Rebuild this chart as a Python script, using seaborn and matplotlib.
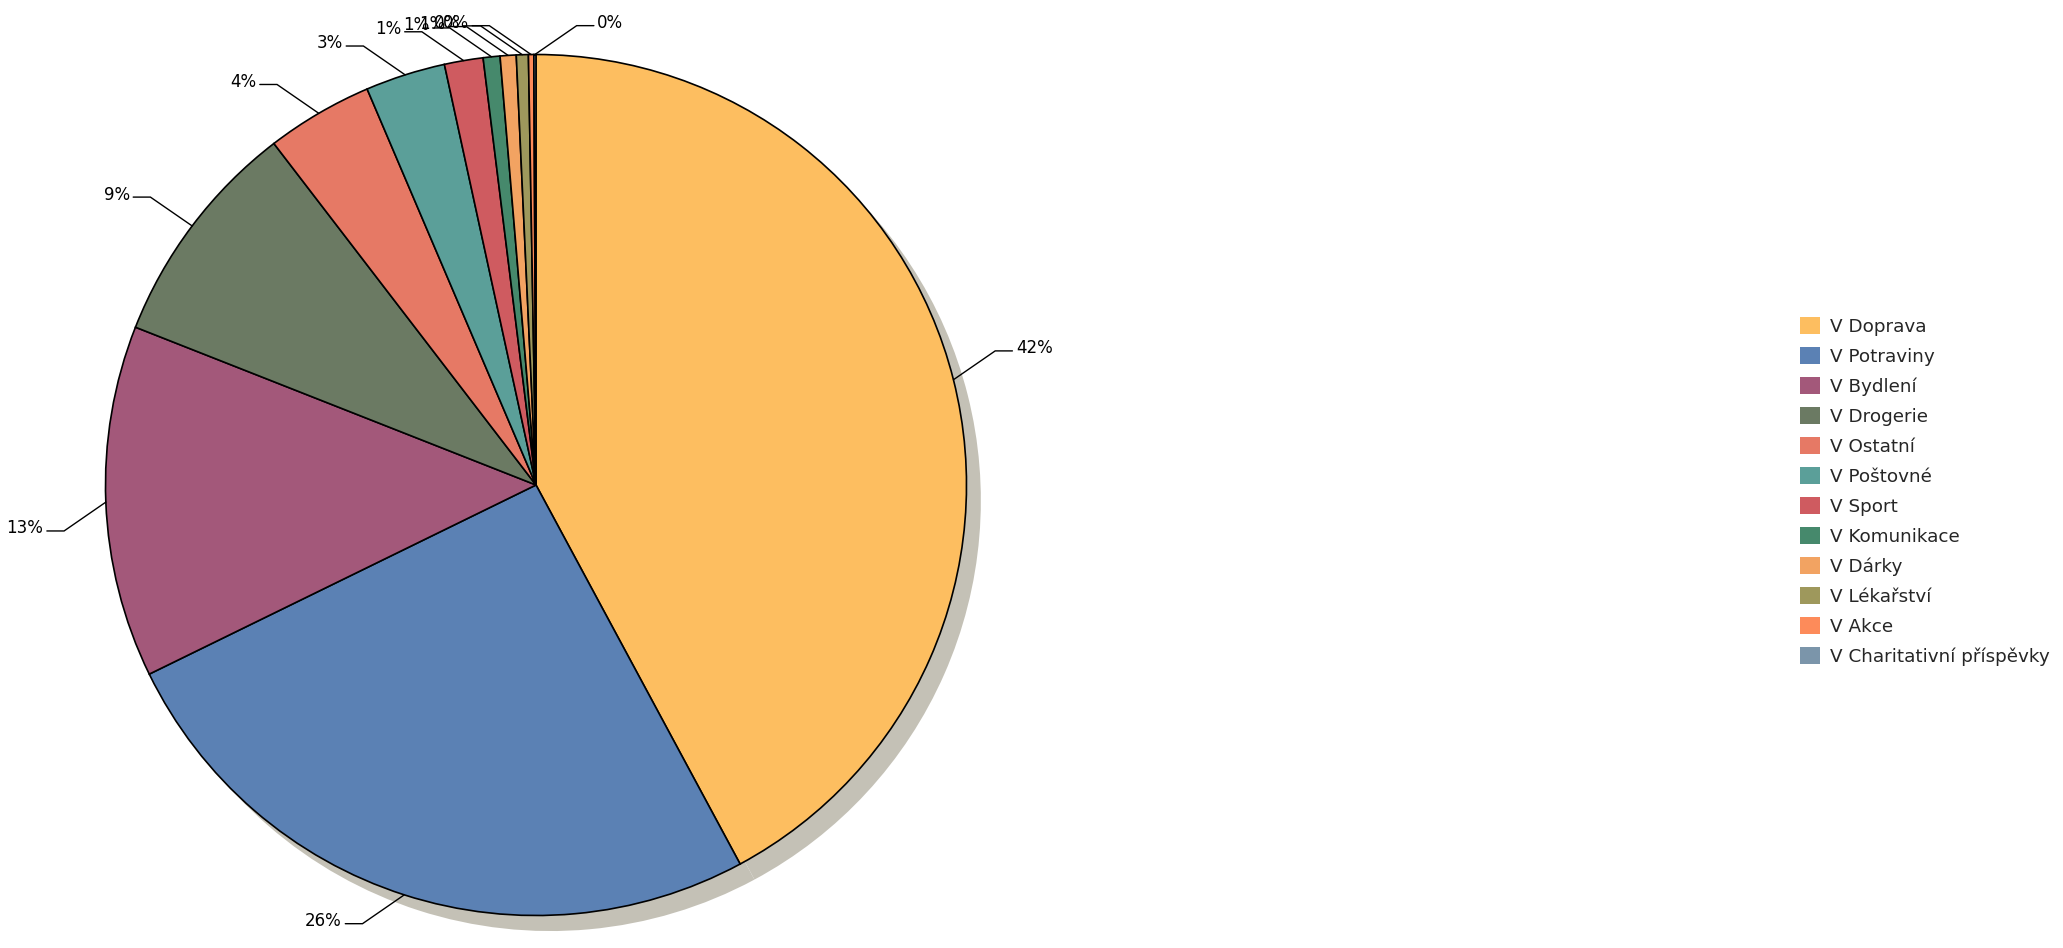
import numpy as np
import matplotlib
matplotlib.use("Agg")
import matplotlib.pyplot as plt
import matplotlib.patches as mpatches
import seaborn as sns

# ===== DATA =====
categories = ["V Doprava", "V Potraviny", "V Bydlení", "V Drogerie", "V Ostatní",
              "V Poštovné", "V Sport", "V Komunikace", "V Dárky", "V Lékařství",
              "V Akce", "V Charitativní příspěvky"]
values = [42.1, 25.6, 13.2, 8.6, 4.0, 3.0, 1.45, 0.63, 0.6, 0.45, 0.2, 0.08]
colors = ["#FDBE60", "#5B81B4", "#A3587A", "#6B7A63", "#E67965", "#5B9F99",
          "#CF5B60", "#46896C", "#F2A362", "#9E985C", "#FD8B5A", "#7B95AA"]

# ===== STYLE =====
sns.set_theme(style="white")
plt.rcParams['font.family'] = ['DejaVu Sans']

W, H = 2063, 948
cx, cy, R = 536, 485, 430.5

fig = plt.figure(figsize=(W / 100, H / 100), dpi=100)
fig.patch.set_facecolor("white")
ax = fig.add_axes([(cx - R) / W, (H - cy - R) / H, 2 * R / W, 2 * R / H])

wedges, _ = ax.pie(
    values,
    colors=colors,
    startangle=90,
    counterclock=False,
    wedgeprops=dict(edgecolor="black", linewidth=1.2),
    shadow=dict(ox=0.024, oy=-0.026, facecolor="#c4c1b6",
                edgecolor="#c4c1b6", alpha=1, linewidth=0),
)
ax.set_xlim(-1, 1)
ax.set_ylim(-1, 1)
ax.set_aspect("equal")
ax.axis("off")

# ===== LABELS =====
total = sum(values)
for w, v in zip(wedges, values):
    ang = np.deg2rad((w.theta1 + w.theta2) / 2)
    x, y = np.cos(ang), np.sin(ang)
    sx = 1 if x > -0.005 else -1
    sy = 1 if y >= 0 else -1
    ex, ey = x + sx * 0.097, y + sy * 0.067
    hx = ex + sx * 0.04
    ax.plot([x, ex, hx], [y, ey, ey], color="black", lw=1.0,
            clip_on=False, solid_joinstyle="miter")
    ax.text(hx + sx * 0.008, ey + 0.006, f"{v / total * 100:.0f}%",
            ha="left" if sx > 0 else "right", va="center",
            fontsize=12, color="black")

# ===== LEGEND =====
handles = [mpatches.Patch(facecolor=c, edgecolor="none") for c in colors]
fig.legend(
    handles, categories,
    loc="upper left",
    bbox_to_anchor=(1800 / W, 1 - 317 / H),
    frameon=False,
    borderpad=0,
    borderaxespad=0,
    fontsize=13.2,
    handlelength=1.09,
    handleheight=1.09,
    handletextpad=0.55,
    labelspacing=0.60,
)

fig.savefig("out.png", dpi=100)
